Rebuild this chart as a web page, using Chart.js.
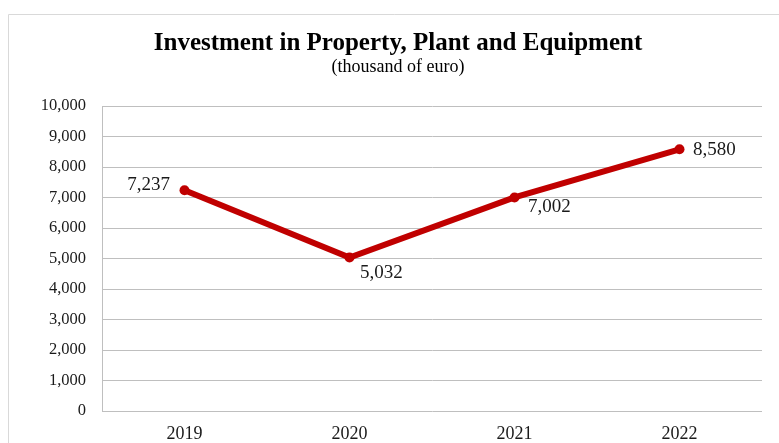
<!DOCTYPE html>
<html lang="en">
<head>
  <meta charset="UTF-8">
  <title>Investment in Property, Plant and Equipment</title>
  <script src="https://cdn.jsdelivr.net/npm/chart.js"></script>
  <style>
    html, body { margin: 0; padding: 0; background: #fff; }
    #wrap { position: relative; width: 779px; height: 443px; }
  </style>
</head>
<body>
  <div id="wrap"><canvas id="capex"></canvas></div>

  <script>
    const years = ['2019', '2020', '2021', '2022'];
    const investment = [7237, 5032, 7002, 8580];
    const yTicks = [0, 1000, 2000, 3000, 4000, 5000, 6000, 7000, 8000, 9000, 10000];
    const chartTitle = 'Investment in Property, Plant and Equipment';
    const chartSubtitle = '(thousand of euro)';

    const SERIF = '"Liberation Serif", "Times New Roman", serif';
    const RED = '#c00000';

    // where each value label sits relative to its point: [dx, dy, align]
    const labelPlacement = [
      [-14.5, -5, 'right'],
      [10.5, 15.5, 'left'],
      [13.5, 10, 'left'],
      [13.5, 1, 'left']
    ];

    const fmt = v => v.toLocaleString('en-US');

    // light frame around the chart (runs off the right and bottom) + headings
    const framePlugin = {
      id: 'frame',
      beforeDraw(chart) {
        const ctx = chart.ctx;
        ctx.save();
        ctx.strokeStyle = '#d9d9d9';
        ctx.lineWidth = 1;
        ctx.beginPath();
        ctx.moveTo(8.5, chart.height + 5);
        ctx.lineTo(8.5, 14.5);
        ctx.lineTo(chart.width + 5, 14.5);
        ctx.stroke();

        ctx.fillStyle = '#000';
        ctx.textAlign = 'center';
        ctx.textBaseline = 'alphabetic';
        ctx.font = 'bold 25px ' + SERIF;
        ctx.fillText(chartTitle, 398, 50);
        ctx.font = '18px ' + SERIF;
        ctx.fillText(chartSubtitle, 398, 72);
        ctx.restore();
      }
    };

    const valueLabels = {
      id: 'valueLabels',
      afterDatasetsDraw(chart) {
        const ctx = chart.ctx;
        const meta = chart.getDatasetMeta(0);
        ctx.save();
        ctx.font = '19px ' + SERIF;
        ctx.fillStyle = '#1a1a1a';
        ctx.textBaseline = 'middle';
        meta.data.forEach((pt, i) => {
          const [dx, dy, align] = labelPlacement[i];
          ctx.textAlign = align;
          ctx.fillText(fmt(investment[i]), pt.x + dx, pt.y + dy);
        });
        ctx.restore();
      }
    };

    new Chart(document.getElementById('capex'), {
      type: 'line',
      data: {
        labels: years,
        datasets: [{
          data: investment,
          borderColor: RED,
          backgroundColor: RED,
          borderWidth: 6,
          pointRadius: 5,
          pointHoverRadius: 5,
          pointBackgroundColor: RED,
          pointBorderWidth: 0,
          tension: 0
        }]
      },
      options: {
        responsive: true,
        maintainAspectRatio: false,
        animation: false,
        layout: { padding: { left: 0, right: 17, top: 106, bottom: 0 } },
        plugins: {
          legend: { display: false },
          tooltip: { enabled: false },
          title: { display: false }
        },
        scales: {
          x: {
            offset: true,
            grid: { display: false, drawTicks: false },
            border: { display: false },
            afterFit(scale) { scale.height = 32; },
            ticks: {
              color: '#1a1a1a',
              font: { family: SERIF, size: 18, lineHeight: 1 },
              padding: 14,
              maxRotation: 0
            }
          },
          y: {
            min: 0,
            max: 10000,
            afterBuildTicks(scale) {
              scale.ticks = yTicks.map(v => ({ value: v }));
            },
            afterFit(scale) { scale.width = 102; },
            grid: { color: '#bfbfbf', lineWidth: 1, drawTicks: false },
            border: { display: true, color: '#bfbfbf', width: 1 },
            ticks: {
              color: '#1a1a1a',
              font: { family: SERIF, size: 16.5, lineHeight: 1.2 },
              padding: 16,
              callback: v => fmt(v)
            }
          }
        }
      },
      plugins: [framePlugin, valueLabels]
    });
  </script>
</body>
</html>
